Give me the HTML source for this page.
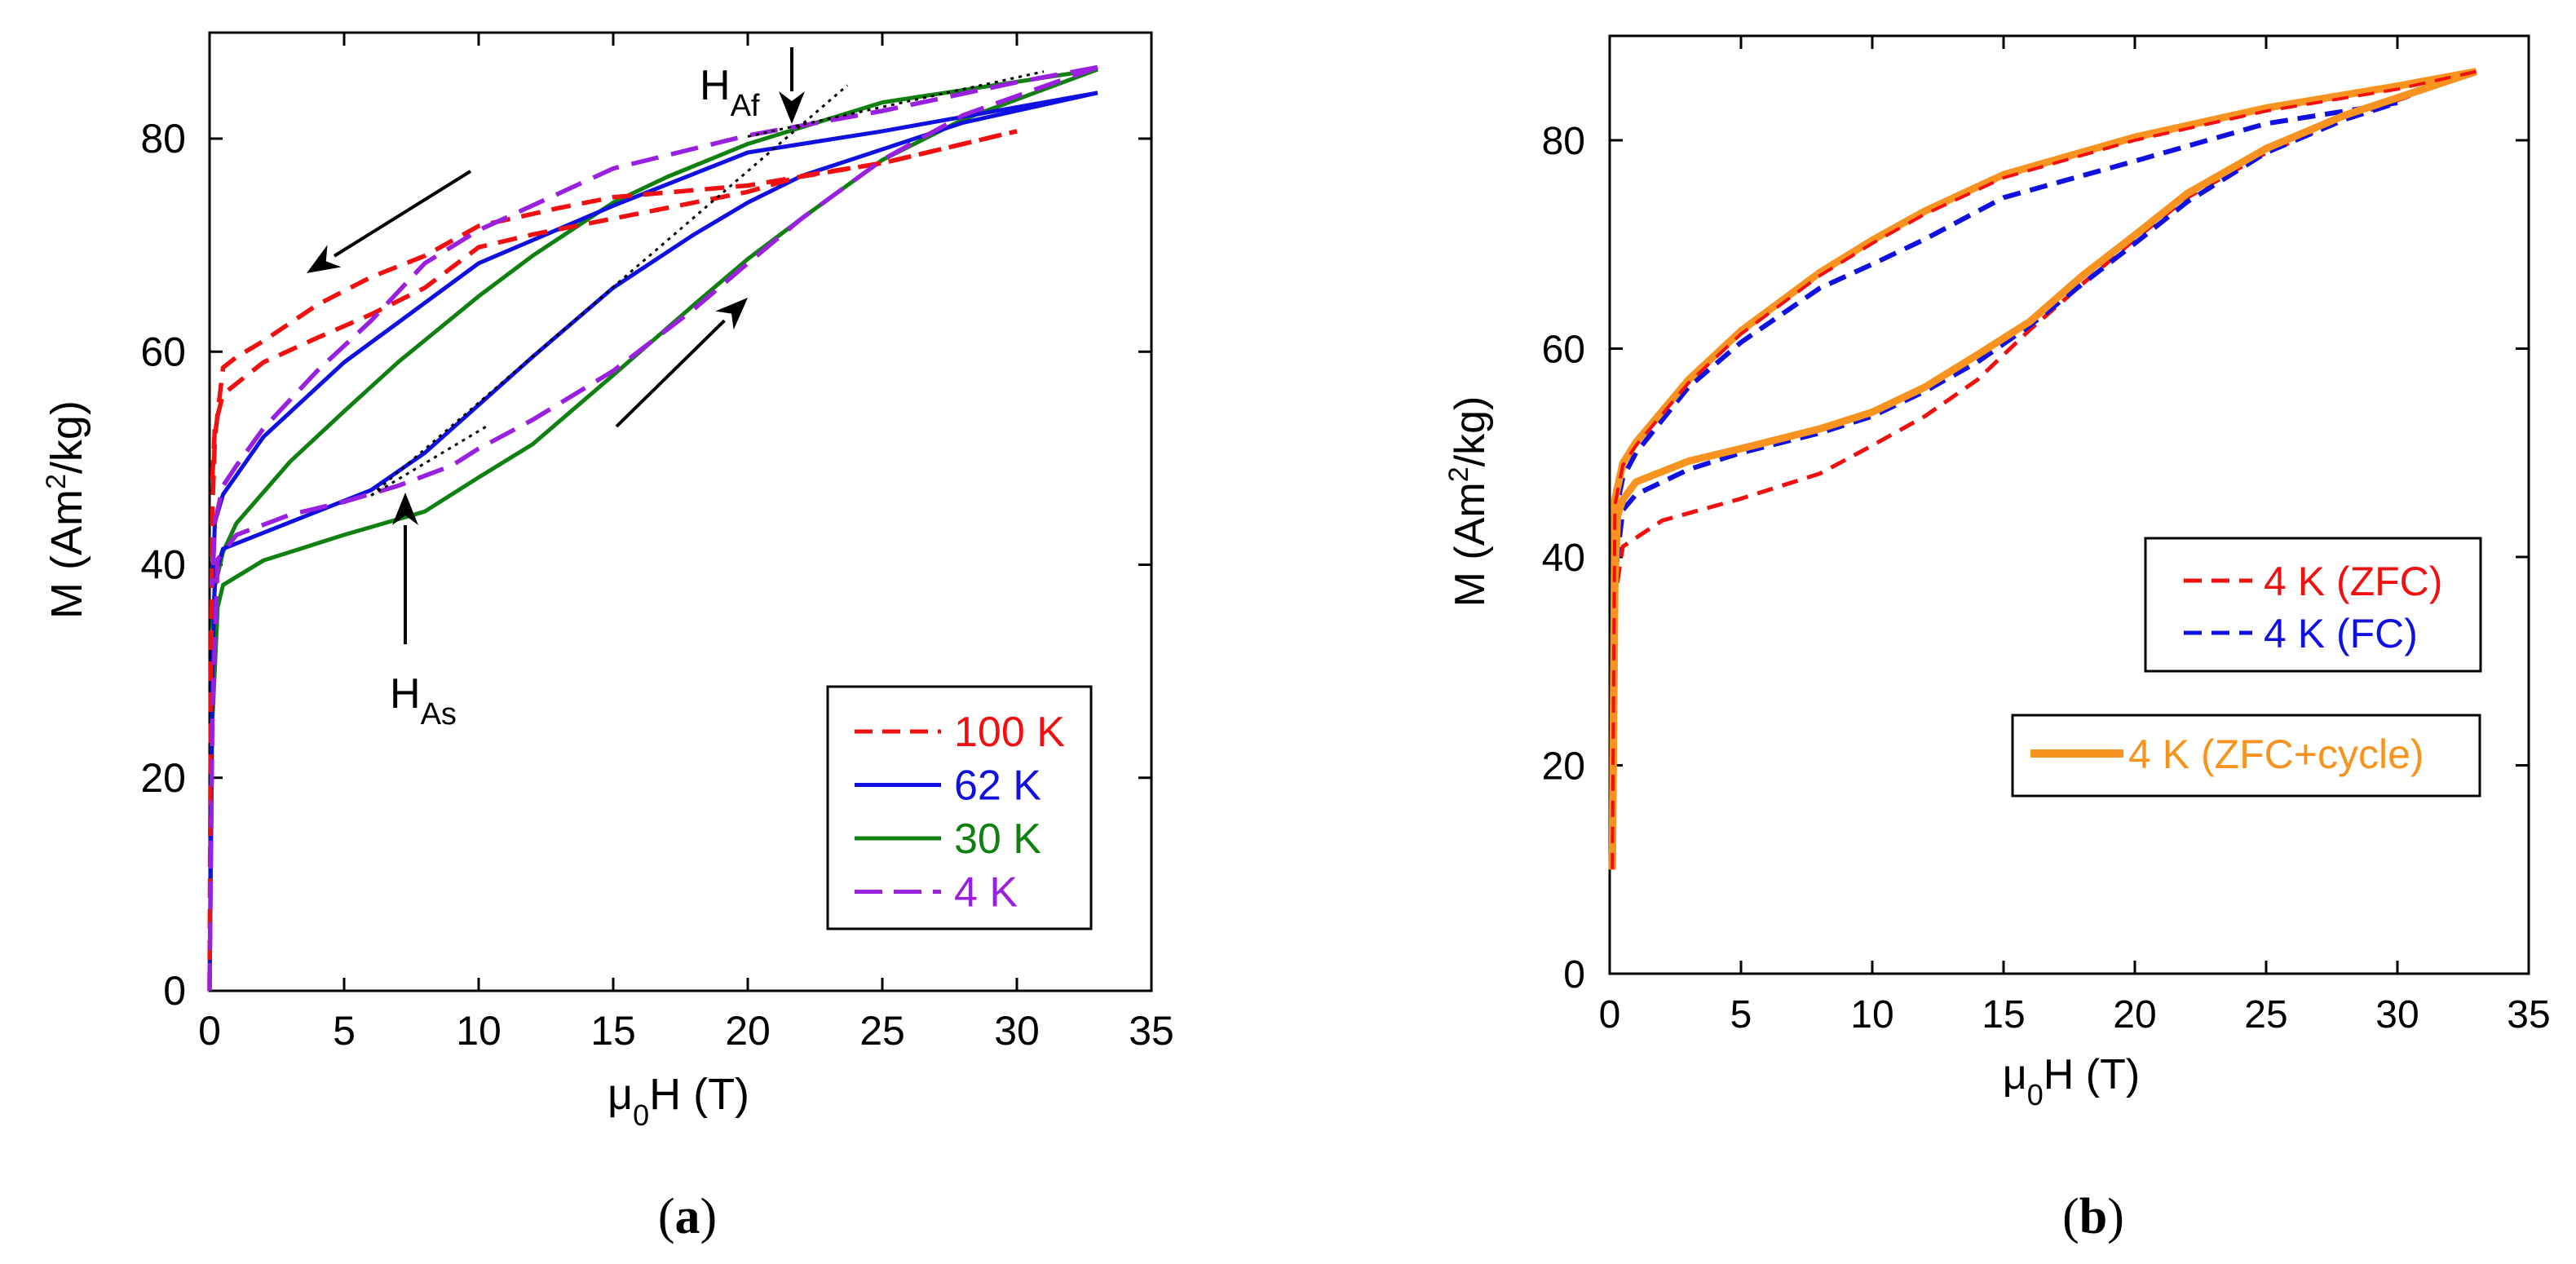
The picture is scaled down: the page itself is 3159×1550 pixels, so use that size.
<!DOCTYPE html>
<html><head><meta charset="utf-8">
<style>
html,body{margin:0;padding:0;background:#fff;}
svg{display:block;font-family:"Liberation Sans",Arial,sans-serif;}
</style></head>
<body>
<svg id="fig" width="3159" height="1550" viewBox="0 0 3159 1550" xmlns="http://www.w3.org/2000/svg"></svg>
<script>
// ---- Panel (a) data ----
const xTicks = [0,5,10,15,20,25,30,35];
const yTicks = [0,20,40,60,80];
const a100up_H = [0,0.05,0.1,0.2,0.5,1,2,4,6,8,10,13,15,20,25,30];
const a100up_M = [0,30,45,52,58.5,59.5,61,64.4,67,69,71.8,73.5,74.5,75.6,77.7,80.7];
const a100dn_H = [0.1,0.2,0.5,1,2,4,6,8,10,12,15,18,20,22,25,30];
const a100dn_M = [48,53,56,57,59,61.3,63.5,66,69.8,71,72.5,74,75,76.5,77.7,80.7];
const a62up_H = [0,0.1,0.2,0.5,2,4,6,8,10,12,15,18,20,22,25,28,33];
const a62up_M = [0,30,39,41.5,43,45,47,50.5,55,59.5,66,71,74,76.5,79,81.5,84.3];
const a62dn_H = [33,25,20,15,10,5,2,0.5,0.2,0.1];
const a62dn_M = [84.3,80.7,78.7,73.7,68.3,59,52,46.6,44,38];
const a30up_H = [0,0.1,0.3,0.5,2,5,8,10,12,15,18,20,22,25,28,33];
const a30up_M = [0,25,36,38.1,40.4,42.8,45,48.2,51.3,57.8,64.4,68.7,72.5,78,81.8,86.5];
const a30dn_H = [33,25,20,17,15,12,10,7,5,3,1,0.5,0.2,0.1];
const a30dn_M = [86.5,83.4,79.5,76.4,74,69,65.2,59,54.4,49.7,43.9,41.2,38,34];
const a4up_H = [0,0.1,0.3,1,3,5,7,9,10,12,15,18,20,22,25,28,33];
const a4up_M = [0,25,40.5,42.8,44.7,45.9,47.4,49.3,50.9,53.6,58.2,64,68.3,72.5,78,82.2,86.7];
const a4dn_H = [33,30,25,20,15,10,8,6,4,2,1,0.5,0.2,0.1];
const a4dn_M = [86.7,85.3,82.6,80.3,77.2,71.4,68.3,62.9,58.2,52.8,49.3,47.4,44,38];
// ---- Panel (b) data ----
const bZup_H = [0.1,0.2,0.5,2,5,8,10,12,14,16,18,20,22,25,28,33];
const bZup_M = [10,36,41,43.5,45.6,48,50.7,53.5,57,61.8,66.2,70.5,74.5,78.8,82,86.6];
const bZdn_H = [33,30,25,20,15,12,10,8,5,3,1,0.5,0.2,0.1];
const bZdn_M = [86.6,84.9,82.8,80,76.4,72.9,70.1,67,61.4,56.7,50.7,48.8,45,10];
const bFup_H = [0.1,0.2,0.5,1,3,5,8,10,12,14,16,18,20,22,25,28,30];
const bFup_M = [10,38,44.5,46,48.4,50,51.9,53.5,55.9,58.7,62.2,66.2,70.1,74.1,78.8,82,83.6];
const bFdn_H = [30,25,20,15,12,10,8,5,3,1,0.5,0.2,0.1];
const bFdn_M = [83.6,81.6,78,74.5,70.5,68.1,65.8,60.6,56.3,50,47.6,44,10];
const bOup_H = [0.1,0.2,0.3,0.5,1,3,5,8,10,12,14,16,18,20,22,25,28,33];
const bOup_M = [10,38,44,45.5,47.2,49.2,50.4,52.3,53.9,56.3,59.4,62.6,67,70.9,74.9,79.2,82.4,86.6];
const bOdn_H = [33,30,25,20,15,12,10,8,5,3,1,0.5,0.2,0.1];
const bOdn_M = [86.6,85.2,83.1,80.3,76.7,73.2,70.4,67.3,61.7,57,51,49,45.5,10];

const NS="http://www.w3.org/2000/svg";
const svg=document.getElementById('fig');
function el(tag,attrs,parent){const e=document.createElementNS(NS,tag);for(const k in attrs)e.setAttribute(k,attrs[k]);(parent||svg).appendChild(e);return e;}

function panel(P){
  const g=el('g',{});
  
  
  P.sx=v=>P.x0+(P.x1-P.x0)*v/35;
  P.sy=v=>P.y0-(P.y0-P.y80)*v/80;
  const fr=el('rect',{x:P.x0,y:P.top,width:P.x1-P.x0,height:P.y0-P.top,fill:'none',stroke:'#000','stroke-width':3},g);
  
  
  xTicks.forEach(t=>{
    const x=P.sx(t);
    el('line',{x1:x,x2:x,y1:P.y0,y2:P.y0-16,stroke:'#000','stroke-width':3},g);
    el('line',{x1:x,x2:x,y1:P.top,y2:P.top+16,stroke:'#000','stroke-width':3},g);
    const tx=el('text',{x:x,y:P.y0+66,'font-size':P.fs,'text-anchor':'middle',fill:'#000'},g);
    tx.textContent=t;
    
    
  });
  yTicks.forEach(t=>{
    const y=P.sy(t);
    el('line',{x1:P.x0,x2:P.x0+16,y1:y,y2:y,stroke:'#000','stroke-width':3},g);
    el('line',{x1:P.x1,x2:P.x1-16,y1:y,y2:y,stroke:'#000','stroke-width':3},g);
    const tx=el('text',{x:P.ylx,y:y+17,'font-size':P.fs,'text-anchor':'end',fill:'#000'},g);
    tx.textContent=t;
    
    
  });
  const yt=el('text',{x:0,y:0,'font-size':P.fs+4,'text-anchor':'middle',transform:`translate(${P.ytx},${P.yty}) rotate(-90)`},g);
  yt.innerHTML='M (Am<tspan dy="-20" font-size="34">2</tspan><tspan dy="20">/kg)</tspan>';
  
  
  const xt=el('text',{x:P.xtx,y:P.xty,'font-size':P.fs+4,'text-anchor':'middle'},g);
  xt.innerHTML='μ<tspan dy="20" font-size="36">0</tspan><tspan dy="-20">H (T)</tspan>';
  
  
  const lb=el('text',{x:P.lbx,y:1512,'font-size':62,'text-anchor':'middle','font-family':'"Liberation Serif",serif'},g);
  lb.innerHTML='(<tspan font-weight="bold">'+P.letter+'</tspan>)';
  
  
  return g;
}
function curve(P,g,H,M,color,w,dash,name){
  const d=H.map((h,i)=>(i?'L':'M')+P.sx(h).toFixed(1)+','+P.sy(M[i]).toFixed(1)).join(' ');
  const p=el('path',{d:d,fill:'none',stroke:color,'stroke-width':w,'stroke-linejoin':'round','stroke-dasharray':dash||'none'},g);
  
  
}
function line(g,x1,y1,x2,y2,c,w,dash){return el('line',{x1,y1,x2,y2,stroke:c,'stroke-width':w,'stroke-dasharray':dash||'none'},g);}
function arrow(g,x1,y1,x2,y2,name){
  const gg=el('g',{},g);
  
  
  const ang=Math.atan2(y2-y1,x2-x1),L=40,Wd=16;
  const bx=x2-L*Math.cos(ang),by=y2-L*Math.sin(ang);
  line(gg,x1,y1,bx,by,'#000',4);
  const px=-Math.sin(ang),py=Math.cos(ang);
  el('polygon',{points:`${x2},${y2} ${bx+px*Wd},${by+py*Wd} ${bx+L*0.3*Math.cos(ang)},${by+L*0.3*Math.sin(ang)} ${bx-px*Wd},${by-py*Wd}`,fill:'#000'},gg);
}

// Panel a
const A={name:'panel-a',x0:257,x1:1412,y0:1215,y80:170,top:40,fs:50,ylx:228,ytx:100,yty:625,xtx:832,xty:1360,lbx:843,letter:'a'};
const ga=panel(A);
const RED='#f01010',BLUE='#1010e0',GREEN='#108010',PURP='#9a20e0',ORNG='#f7931e';
curve(A,ga,a30up_H,a30up_M,GREEN,5,null,'series-30k-up');
curve(A,ga,a30dn_H,a30dn_M,GREEN,5,null,'series-30k-down');
curve(A,ga,a62up_H,a62up_M,BLUE,5,null,'series-62k-up');
curve(A,ga,a62dn_H,a62dn_M,BLUE,5,null,'series-62k-down');
curve(A,ga,a100up_H,a100up_M,RED,5.5,'24 14','series-100k-up');
curve(A,ga,a100dn_H,a100dn_M,RED,5.5,'24 14','series-100k-down');
curve(A,ga,a4up_H,a4up_M,PURP,5.5,'34 16','series-4k-up');
curve(A,ga,a4dn_H,a4dn_M,PURP,5.5,'34 16','series-4k-down');
// dotted tangents
line(ga,A.sx(6),A.sy(46.5),A.sx(10.3),A.sy(53),'#000',3,'4 6');
line(ga,A.sx(6),A.sy(46.5),A.sx(23.7),A.sy(85),'#000',3,'4 6');
line(ga,A.sx(20),A.sy(80.2),A.sx(31),A.sy(86.3),'#000',3,'4 6');
arrow(ga,577,210,376,335,'arrow-decreasing');
arrow(ga,756,523,917,365,'arrow-increasing');
arrow(ga,497,790,497,604,'arrow-has');
arrow(ga,971,58,971,152,'arrow-haf');
let t=el('text',{x:478,y:868,'font-size':52},ga);t.innerHTML='H<tspan dy="20" font-size="38">As</tspan>';


t=el('text',{x:858,y:122,'font-size':52},ga);t.innerHTML='H<tspan dy="20" font-size="38">Af</tspan>';


// legend a
const lga=el('g',{},ga);


el('rect',{x:1015,y:842,width:323,height:297,fill:'#fff',stroke:'#000','stroke-width':3},lga);
const legA=[['100 K',RED,'22 12'],['62 K',BLUE,null],['30 K',GREEN,null],['4 K',PURP,'34 14']];
legA.forEach((e,i)=>{
  const y=897+i*65.5;
  line(lga,1048,y,1154,y,e[1],5,e[2]);
  const tt=el('text',{x:1170,y:y+18,'font-size':52,fill:e[1]},lga);tt.textContent=e[0];
  
  
});

// Panel b
const B={name:'panel-b',x0:1974,x1:3101,y0:1194,y80:172,top:44,fs:48,ylx:1944,ytx:1820,yty:615,xtx:2540,xty:1335,lbx:2567,letter:'b'};
const gb=panel(B);
curve(B,gb,bZup_H,bZup_M,RED,5,'20 12','series-zfc-up');
curve(B,gb,bFup_H,bFup_M,BLUE,6,'22 12','series-fc-up');
curve(B,gb,bFdn_H,bFdn_M,BLUE,6,'22 12','series-fc-down');
curve(B,gb,bOup_H,bOup_M,ORNG,9,null,'series-zfc-cycle-up');
curve(B,gb,bOdn_H,bOdn_M,ORNG,9,null,'series-zfc-cycle-down');
curve(B,gb,bZdn_H,bZdn_M,RED,4,'20 12','series-zfc-down');
const lgb=el('g',{},gb);


el('rect',{x:2631,y:660,width:411,height:163,fill:'#fff',stroke:'#000','stroke-width':3},lgb);
[['4 K (ZFC)',RED,712],['4 K (FC)',BLUE,776]].forEach(e=>{
  line(lgb,2678,e[2],2762,e[2],e[1],5,'22 12');
  const tt=el('text',{x:2776,y:e[2]+18,'font-size':50,fill:e[1]},lgb);tt.textContent=e[0];
  
  
});
const lgb2=el('g',{},gb);


el('rect',{x:2468,y:877,width:573,height:99,fill:'#fff',stroke:'#000','stroke-width':3},lgb2);
line(lgb2,2490,924,2604,924,ORNG,10);
const tt2=el('text',{x:2610,y:942,'font-size':50,fill:ORNG},lgb2);tt2.textContent='4 K (ZFC+cycle)';


</script>
</body></html>
